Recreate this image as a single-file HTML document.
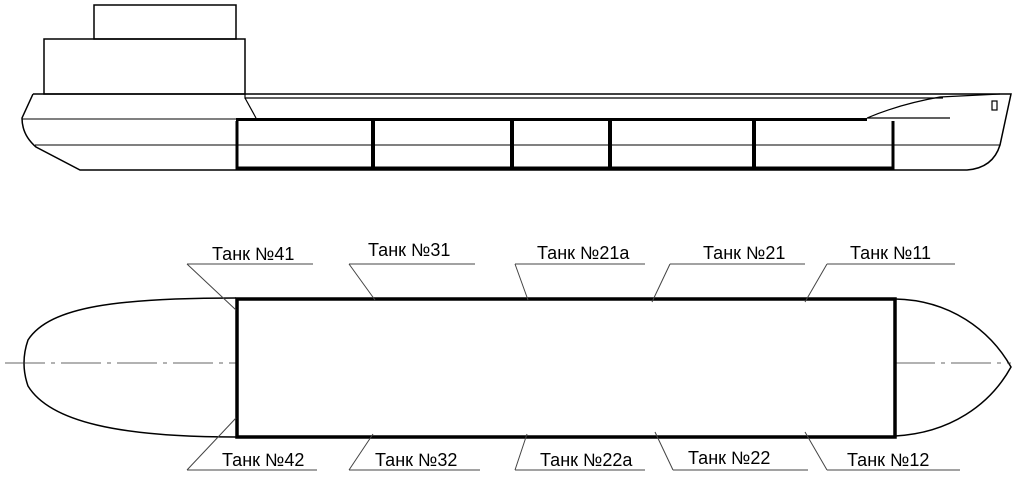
<!DOCTYPE html>
<html><head><meta charset="utf-8"><style>body{margin:0;background:#fff}svg{display:block}text{font-family:"Liberation Sans",sans-serif;font-size:18px;fill:#000}</style></head><body>
<svg width="1016" height="477" viewBox="0 0 1016 477" xmlns="http://www.w3.org/2000/svg" fill="none" stroke="#000">
<!-- side view -->
<rect x="94" y="5" width="142" height="34" stroke-width="1.5"/>
<rect x="44" y="39" width="201" height="55" stroke-width="1.5"/>
<path d="M33 94 H1011 L1000 145 Q993 168 967 170 H80 L36 147 Q22 135 22 118 L33 94" stroke-width="1.5"/>
<path d="M245 94 V98 H943" stroke-width="1.2"/>
<path d="M245 98 L256 118" stroke-width="1.2"/>
<path d="M22 119 H236 M35 145 H1000" stroke-width="1"/>
<path d="M236 119.5 H867" stroke-width="3"/>
<path d="M867 118 H950 M867 118 Q900 104 940 97 L1000 94" stroke-width="1.2"/>
<path d="M237 121 V168 H893 V121" stroke-width="3"/>
<path d="M373 121 V168 M512 121 V168 M610 121 V168 M754 121 V168" stroke-width="4"/>
<rect x="992" y="101" width="5" height="9" stroke-width="1.2"/>
<!-- plan view -->
<path d="M236 298 C120 298 50 306 28 340 Q20 363 28 386 C50 422 120 437 236 437" stroke-width="1.5"/>
<path d="M895 299 C950 300 990 330 1011 367 C990 405 950 433 895 436" stroke-width="1.5"/>
<path d="M5 363 H237 M895 363 H1011" stroke-width="0.8" stroke-dasharray="40 6 4 6" stroke="#333"/>
<rect x="237" y="299" width="658" height="138" stroke-width="3.5"/>
<g stroke-width="1" stroke="#444">
<path d="M187 264 H313 M187 264 L236 310"/>
<path d="M349 264 H475 M349 264 L375 300"/>
<path d="M515 264 H645 M515 264 L528 300"/>
<path d="M670 264 H805 M670 264 L652 302"/>
<path d="M827 264 H955 M827 264 L805 302"/>
<path d="M187 470 H317 M187 470 L236 418"/>
<path d="M349 470 H480 M349 470 L373 434"/>
<path d="M515 470 H645 M515 470 L527 434"/>
<path d="M673 470 H808 M673 470 L655 432"/>
<path d="M827 470 H960 M827 470 L805 432"/>
</g>
<g stroke="none">
<text x="212" y="260">Танк №41</text>
<text x="368" y="256">Танк №31</text>
<text x="537" y="259">Танк №21а</text>
<text x="703" y="259">Танк №21</text>
<text x="850" y="259">Танк №11</text>
<text x="222" y="466">Танк №42</text>
<text x="375" y="466">Танк №32</text>
<text x="540" y="466">Танк №22а</text>
<text x="688" y="464">Танк №22</text>
<text x="847" y="466">Танк №12</text>
</g>
</svg>
</body></html>
